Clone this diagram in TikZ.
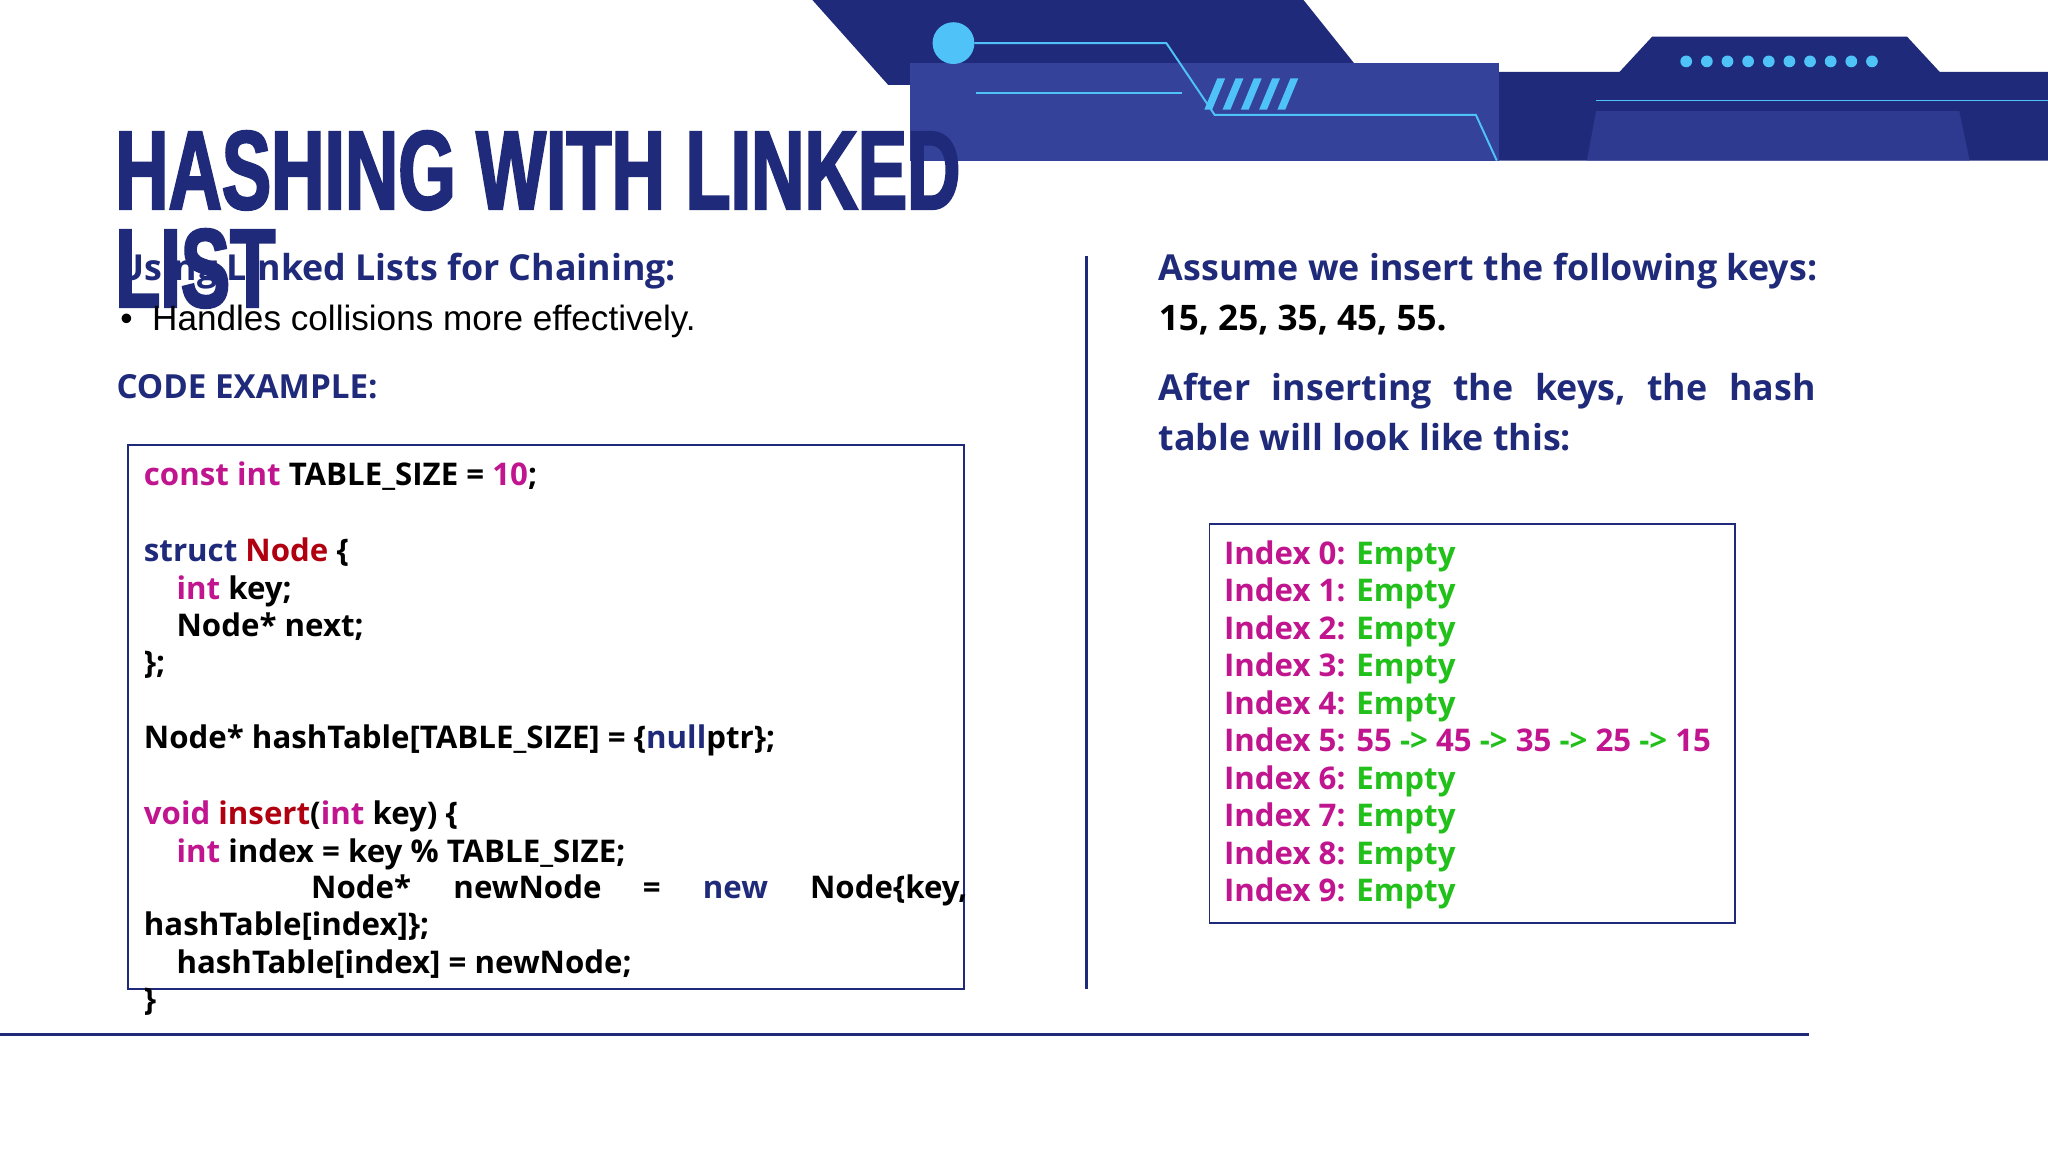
\documentclass[tikz,border=0pt]{standalone}
\usepackage{fontspec}
\setmainfont{Open Sans}
\newfontfamily\titlefont[FakeStretch=0.66,FakeBold=2]{Liberation Sans}
\newfontfamily\arialfont{Liberation Sans}
\definecolor{navy}{HTML}{1F2A7A}
\definecolor{navyL}{HTML}{35429A}
\definecolor{cyanL}{HTML}{4FC3F7}
\definecolor{mag}{HTML}{C0158F}
\definecolor{dred}{HTML}{B00010}
\definecolor{grn}{HTML}{22C01A}
\tikzset{
 txt/.style={anchor=base west,inner sep=0pt,font=\fontsize{24}{28}\selectfont\bfseries},
 head/.style={txt,text=navy,font=\fontsize{27.5}{30}\selectfont\bfseries},
 boxline/.style={draw=navy,line width=1.5pt},
}
\begin{document}
\begin{tikzpicture}[x=1bp,y=-1bp]
\useasboundingbox (0,0) rectangle (1568,882);
\fill[white] (0,0) rectangle (1568,882);
% banner
\fill[navy] (622,0) -- (998,0) -- (1042,55) -- (1240,55) -- (1265,28) -- (1460,28) -- (1485,55) -- (1568,55) -- (1568,123) -- (697,123) -- (697,65) -- (680,65) -- cycle;
\fill[navyL] (697,48) rectangle (1148,123);
\fill[navyL,opacity=0.7] (1222,85) -- (1500,85) -- (1508,123) -- (1215,123) -- cycle;
\draw[cyanL,line width=1.5pt] (746,33) -- (893,33) -- (930,88) -- (1130,88) -- (1146,123);
\draw[cyanL,line width=1.2pt] (747,71) -- (905,71);
\draw[cyanL,line width=1.2pt] (1222,77) -- (1568,77);
\foreach \i in {0,...,4}{\fill[cyanL] (922+\i*14,84) -- (932+\i*14,60) -- (938+\i*14,60) -- (928+\i*14,84) -- cycle;}
\fill[cyanL] (730,33) circle (16);
\foreach \i in {0,...,9}{\fill[cyanL] (1291+\i*15.8,47) circle (4.5);}
% title
\node[txt,font=\titlefont\fontsize{86}{86}\selectfont\bfseries,text=navy] (t1) at (88,160) {HASHING WITH LINKED};
\node[txt,font=\titlefont\fontsize{86}{86}\selectfont\bfseries,text=navy] (t2) at (88,235) {LIST};
% left texts
\node[head] (h1) at (90,215) {Using Linked Lists for Chaining:};
\node[txt,font=\arialfont\fontsize{27}{30}\selectfont] (b1) at (92,253) {\textbullet\ \ Handles collisions more effectively.};
\node[head,font=\fontsize{25.5}{30}\selectfont\bfseries] (h2) at (89,305) {CODE EXAMPLE:};
\draw[boxline] (98,341) rectangle (738,757);
\node[txt] at (110,372) {\textcolor{mag}{const int} TABLE\_SIZE = \textcolor{mag}{10};};
\node[txt] at (110,430) {\textcolor{navy}{struct} \textcolor{dred}{Node} \{};
\node[txt] at (135,459) {\textcolor{mag}{int} key;};
\node[txt] at (135,487) {Node* next;};
\node[txt] at (110,516) {\};};
\node[txt] at (110,573) {Node* hashTable[TABLE\_SIZE] = \{\textcolor{navy}{null}ptr\};};
\node[txt] at (110,631) {\textcolor{mag}{void} \textcolor{dred}{insert}(\textcolor{mag}{int} key) \{};
\node[txt] at (135,660) {\textcolor{mag}{int} index = key \% TABLE\_SIZE;};
\node[txt] at (238,688) {Node*};
\node[txt] at (347,688) {newNode};
\node[txt] at (492,688) {=};
\node[txt,text=navy] at (538,688) {new};
\node[txt] at (620,688) {Node\{key,};
\node[txt] at (110,716) {hashTable[index]\};};
\node[txt] at (135,745) {hashTable[index] = newNode;};
\node[txt] at (110,774) {\}};
% dividers
\draw[navy,line width=2.5pt] (832,196) -- (832,757);
\draw[navy,line width=2.5pt] (0,792) -- (1385,792);
% right
\node[head] (r1) at (887,215) {Assume we insert the following keys:};
\node[txt,font=\fontsize{27}{30}\selectfont\bfseries] (r2) at (887,253) {15, 25, 35, 45, 55.};
\node[head] (r3) at (887,307) {\hbox to 503bp{After\hfill inserting\hfill the\hfill keys,\hfill the\hfill hash}};
\node[head] (r4) at (887,345) {table will look like this:};
\draw[boxline] (926,401) rectangle (1328,707);
\foreach \i in {0,1,2,3,4,6,7,8,9}{
 \node[txt] at (937,432+\i*28.7) {\textcolor{mag}{Index \i:} \textcolor{grn}{Empty}};}
\node[txt] at (937,575.5) {\textcolor{mag}{Index 5: 55} \textcolor{grn}{->} \textcolor{mag}{45} \textcolor{grn}{->} \textcolor{mag}{35} \textcolor{grn}{->} \textcolor{mag}{25} \textcolor{grn}{->} \textcolor{mag}{15}};
\end{tikzpicture}
\end{document}
